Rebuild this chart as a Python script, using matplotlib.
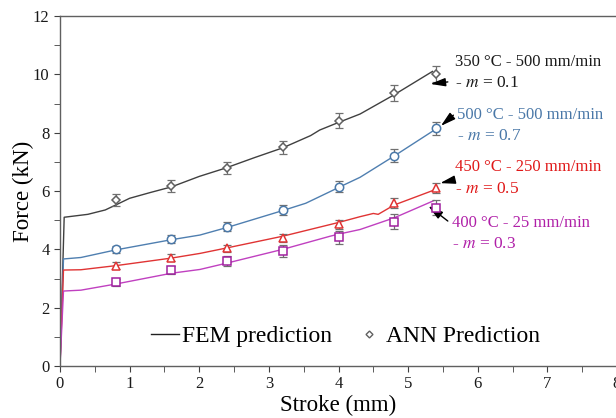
import matplotlib
matplotlib.use("Agg")
from matplotlib import pyplot as plt
from matplotlib.lines import Line2D
from matplotlib.ticker import MultipleLocator

plt.rcParams['font.family'] = ['Liberation Serif', 'DejaVu Serif']
plt.rcParams['mathtext.fontset'] = 'stix'

# FEM curves (stroke in mm, force in kN)
fem_x_black = [0, 0.06, 0.4, 0.65, 0.8, 1.0, 1.3, 1.6, 2.0, 2.37, 2.8, 3.2, 3.6, 3.73, 4.0, 4.31, 4.8, 5.35]
fem_y_black = [0, 5.10, 5.20, 5.35, 5.52, 5.75, 5.95, 6.14, 6.50, 6.78, 7.15, 7.48, 7.90, 8.09, 8.35, 8.64, 9.30, 10.10]

fem_x_blue = [0, 0.05, 0.3, 0.8, 1.6, 2.01, 2.4, 3.2, 3.53, 3.88, 4.0, 4.31, 4.8, 5.39]
fem_y_blue = [0, 3.67, 3.72, 3.98, 4.33, 4.49, 4.75, 5.33, 5.58, 5.98, 6.12, 6.47, 7.20, 8.11]

fem_x_red = [0, 0.05, 0.3, 0.8, 1.6, 2.01, 2.4, 3.2, 3.88, 4.0, 4.31, 4.5, 4.57, 4.8, 5.37]
fem_y_red = [0, 3.29, 3.30, 3.44, 3.70, 3.86, 4.05, 4.45, 4.85, 4.92, 5.12, 5.23, 5.20, 5.52, 6.03]

fem_x_mag = [0, 0.05, 0.3, 0.8, 1.6, 2.01, 2.4, 3.2, 3.88, 4.0, 4.31, 4.8, 5.37]
fem_y_mag = [0, 2.57, 2.60, 2.81, 3.18, 3.31, 3.53, 4.00, 4.45, 4.52, 4.68, 5.08, 5.67]

# ANN predictions with error
ann_x = [0.8, 1.6, 2.4, 3.2, 4.0, 4.8, 5.4]
ann_black = [5.69, 6.18, 6.78, 7.50, 8.41, 9.37, 10.01]
ann_blue = [4.01, 4.35, 4.78, 5.35, 6.15, 7.21, 8.15]
ann_red = [3.43, 3.71, 4.03, 4.38, 4.86, 5.58, 6.11]
ann_mag = [2.87, 3.29, 3.60, 3.94, 4.41, 4.95, 5.43]

err_black = [0.20, 0.20, 0.20, 0.22, 0.25, 0.28, 0.28]
err_blue = [0.12, 0.13, 0.15, 0.16, 0.18, 0.22, 0.22]
err_red = [0.12, 0.12, 0.13, 0.14, 0.15, 0.17, 0.17]
err_mag = [0.12, 0.15, 0.18, 0.20, 0.22, 0.26, 0.26]

labels = ["350 °C - 500 mm/min", "500 °C - 500 mm/min", "450 °C - 250 mm/min", "400 °C - 25 mm/min"]
m_values = ["0.1", "0.7", "0.5", "0.3"]

fig = plt.figure(figsize=(6.16, 4.18), dpi=100)
ax = fig.add_axes([60 / 616, 52 / 418, 557 / 616, 350 / 418])

series = [
    (fem_x_black, fem_y_black, ann_black, err_black, '#404040', '#606060', 'D', 4.5),
    (fem_x_blue, fem_y_blue, ann_blue, err_blue, '#4f7fb0', '#4a78a8', 'o', 6),
    (fem_x_red, fem_y_red, ann_red, err_red, '#e03434', '#e03434', '^', 6),
    (fem_x_mag, fem_y_mag, ann_mag, err_mag, '#c040c0', '#a0209f', 's', 6),
]
for fx, fy, ay, ae, lc, mc, mk, ms in series:
    ax.plot(fx, fy, color=lc, lw=1.0, zorder=2)
    ax.errorbar(ann_x, ay, yerr=ae, fmt='none', ecolor='#707070', elinewidth=0.9,
                capsize=3, capthick=0.9, zorder=3)
    ax.plot(ann_x, ay, ls='none', marker=mk, ms=ms, mfc='white', mec=mc, mew=1.1, zorder=4)

# labels and arrows for each curve
text_colors = ['#1a1a1a', '#4a78a8', '#e01818', '#b020a8']
text_pos = [(5.68, 10.42, 9.70), (5.70, 8.60, 7.88), (5.68, 6.82, 6.07), (5.63, 4.90, 4.18)]
arrow_tail = [(5.57, 9.74), (5.65, 8.60), (5.66, 6.38), (5.57, 4.97)]
arrow_head = [(5.32, 9.67), (5.47, 8.23), (5.46, 6.27), (5.29, 5.49)]
for lab, mv, col, (tx, ty1, ty2), tail, head in zip(labels, m_values, text_colors, text_pos, arrow_tail, arrow_head):
    ax.text(tx, ty1, lab, color=col, fontsize=12, ha='left', va='center')
    ax.text(tx, ty2, "- $m$ = " + mv, color=col, fontsize=12.5, ha='left', va='center')
    ax.annotate('', xy=head, xytext=tail,
                arrowprops=dict(arrowstyle='-|>,head_length=0.9,head_width=0.25',
                                color='black', lw=1.0, shrinkA=0, shrinkB=0))

ax.set_xlim(0, 8)
ax.set_ylim(0, 12)
ax.xaxis.set_major_locator(MultipleLocator(1))
ax.xaxis.set_minor_locator(MultipleLocator(0.5))
ax.yaxis.set_major_locator(MultipleLocator(2))
ax.yaxis.set_minor_locator(MultipleLocator(1))
ax.tick_params(which='both', direction='out', color='#404040', labelsize=12, labelcolor='#1a1a1a')
ax.tick_params(which='major', length=4)
ax.tick_params(which='minor', length=4)
ax.spines['right'].set_visible(False)
for s in ['left', 'bottom', 'top']:
    ax.spines[s].set_color('#606060')
    ax.spines[s].set_linewidth(1.0)

ax.set_xlabel('Stroke (mm)', fontsize=16.5, labelpad=2)
ax.set_ylabel('Force (kN)', fontsize=16.5, labelpad=-1)

handles = [Line2D([], [], color='#202020', lw=1.0),
           Line2D([], [], ls='none', marker='D', ms=3.5, mfc='white', mec='#606060')]
ax.legend(handles, ['FEM prediction', 'ANN Prediction'], loc='center', bbox_to_anchor=(0.5126, 0.085),
          ncol=2, frameon=False, fontsize=17, handlelength=1.2, handletextpad=0.1, columnspacing=1.0)

fig.savefig('out.png', dpi=100)
